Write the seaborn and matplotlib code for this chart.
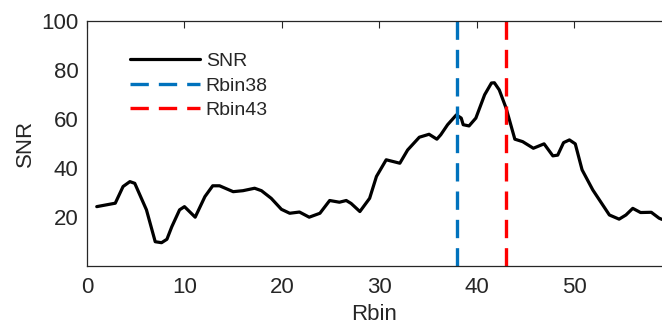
import matplotlib
matplotlib.use("Agg")
import matplotlib.pyplot as plt
import seaborn as sns
import pandas as pd

# Data
rbin = [1.0, 2.9, 3.7, 4.4, 4.9, 6.1, 7.0, 7.65, 8.2, 8.7, 9.5, 10.0, 11.1, 12.1, 12.9, 13.6,
        15.0, 16.0, 17.2, 17.9, 18.9, 19.95, 20.8, 21.8, 22.8, 23.9, 24.9, 25.9, 26.6, 27.1,
        28.0, 29.0, 29.7, 30.7, 32.1, 32.9, 34.1, 35.1, 35.9, 36.3, 37.0, 37.9, 38.4, 38.6,
        39.2, 39.9, 40.8, 41.5, 41.8, 42.3, 43.0, 43.9, 44.7, 45.8, 46.9, 47.8, 48.3, 48.9,
        49.5, 50.1, 50.8, 51.9, 53.6, 54.6, 55.3, 56.0, 56.8, 57.9, 58.7, 59.0]
snr = [24.2, 25.6, 32.4, 34.4, 33.7, 22.9, 9.9, 9.5, 10.9, 16.0, 22.9, 24.2, 19.9, 28.3, 32.7, 32.7,
       30.3, 30.7, 31.7, 30.7, 27.6, 23.1, 21.5, 22.0, 19.9, 21.5, 26.7, 26.0, 26.7, 25.5,
       22.2, 27.6, 36.5, 43.3, 41.9, 47.3, 52.5, 53.7, 51.7, 53.5, 57.6, 61.6, 60.3, 57.6,
       57.1, 60.3, 69.8, 74.6, 74.7, 71.8, 64.4, 51.7, 50.7, 48.0, 49.8, 44.9, 45.2, 50.3,
       51.4, 49.8, 39.2, 31.0, 20.8, 19.1, 20.8, 23.5, 21.8, 21.9, 19.5, 19.0]
marker_bins = [38, 43]
marker_labels = ["Rbin38", "Rbin43"]
marker_colors = ["#0072BD", "#FF0000"]
xticks = [0, 10, 20, 30, 40, 50]
yticks = [20, 40, 60, 80, 100]

sns.set_style("white")
plt.rcParams["font.family"] = ["Liberation Sans", "DejaVu Sans"]
txt = "#262626"
plt.rcParams["text.color"] = txt
plt.rcParams["axes.labelcolor"] = txt
plt.rcParams["xtick.color"] = txt
plt.rcParams["ytick.color"] = txt

fig = plt.figure(figsize=(6.62, 3.27), dpi=100)
ax = fig.add_axes([87 / 662, 61 / 327, 1 - 87 / 662, (266 - 20.7) / 327])

df = pd.DataFrame({"Rbin": rbin, "SNR": snr})
sns.lineplot(data=df, x="Rbin", y="SNR", ax=ax, color="black", linewidth=2.3, label="SNR")
for b, lab, c in zip(marker_bins, marker_labels, marker_colors):
    ax.axvline(b, color=c, linewidth=2.4, linestyle=(0, (5.5, 3.0)), label=lab)

ax.set_xlim(0, 59)
ax.set_ylim(0, 100)
ax.set_xticks(xticks)
ax.set_yticks(yticks)
ax.tick_params(direction="in", length=5, width=0.8, labelsize=16, top=True, right=False)
ax.tick_params(axis="x", pad=8)
ax.tick_params(axis="y", pad=6)
for s in ax.spines.values():
    s.set_color(txt)
    s.set_linewidth(0.9)
ax.spines["right"].set_visible(False)
ax.set_xlabel("Rbin", fontsize=16, labelpad=4)
ax.set_ylabel("SNR", fontsize=16, labelpad=4)

leg = ax.legend(loc="upper left", bbox_to_anchor=(0.0747, 0.87), frameon=False, fontsize=14,
                handlelength=3.6, handletextpad=0.3, borderpad=0, borderaxespad=0,
                labelspacing=0.35)

fig.savefig("out.png", dpi=100)
